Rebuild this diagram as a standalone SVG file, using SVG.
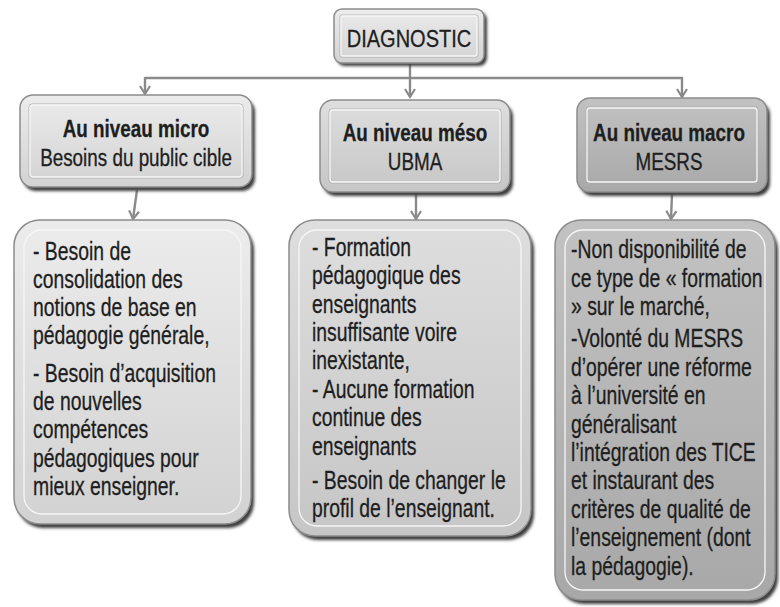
<svg xmlns="http://www.w3.org/2000/svg" width="780" height="607" viewBox="0 0 780 607">
<defs>
<linearGradient id="gLight" x1="0" y1="0" x2="0" y2="1"><stop offset="0" stop-color="#ececec"/><stop offset="1" stop-color="#d2d2d2"/></linearGradient>
<linearGradient id="gMid" x1="0" y1="0" x2="0" y2="1"><stop offset="0" stop-color="#dedede"/><stop offset="1" stop-color="#c6c6c6"/></linearGradient>
<linearGradient id="gDark" x1="0" y1="0" x2="0" y2="1"><stop offset="0" stop-color="#c2c2c2"/><stop offset="1" stop-color="#a8a8a8"/></linearGradient>
<filter id="sh" x="-10%" y="-10%" width="125%" height="125%"><feGaussianBlur stdDeviation="1.6"/></filter>
<marker id="arr" markerUnits="userSpaceOnUse" markerWidth="14" markerHeight="14" refX="10" refY="6" orient="auto"><path d="M2,1 L10,6 L2,11" fill="none" stroke="#8a8a8a" stroke-width="2.2" stroke-linejoin="miter"/></marker>
</defs>
<style>
.shadow{fill:#3c3c3c;filter:url(#sh);}
.box{stroke:#8c8c8c;stroke-width:1.5;}
.inner{fill:none;stroke:#f6f6f6;stroke-width:1.3;}
.inner2{fill:none;stroke:#a8a8a8;stroke-width:0.8;}
.conn{fill:none;stroke:#8a8a8a;stroke-width:2.4;}
text{font-family:"Liberation Sans",Arial,sans-serif;fill:#1e1e1e;stroke:#1e1e1e;stroke-width:0.3;}
.t{font-size:23px;}
.hb{font-weight:bold;}
.body{font-size:25.5px;}
</style>

<g id="connectors">
<path class="conn" d="M410,64 V97" marker-end="url(#arr)"/>
<path class="conn" d="M145,78 H682"/>
<path class="conn" d="M145,77 V94" marker-end="url(#arr)"/>
<path class="conn" d="M682,77 V97" marker-end="url(#arr)"/>
<path class="conn" d="M137,190 L133,219" marker-end="url(#arr)"/>
<path class="conn" d="M416,194 V219" marker-end="url(#arr)"/>
<path class="conn" d="M672,194 L671,219" marker-end="url(#arr)"/>
</g>

<g id="diagnostic">
<rect class="shadow" x="337" y="12" width="150" height="54" rx="8"/>
<rect class="box" x="334" y="9" width="150" height="54" rx="8" fill="url(#gLight)"/>
<rect class="inner2" x="340" y="15" width="138" height="42" rx="2"/>
<rect class="inner" x="341" y="16" width="136" height="40" rx="2"/>
<text class="t" transform="translate(409 0) scale(0.87 1)" text-anchor="middle" x="0" y="47">DIAGNOSTIC</text>
</g>

<g id="micro-header">
<rect class="shadow" x="23" y="99" width="232" height="92" rx="13"/>
<rect class="box" x="20" y="95" width="232" height="92" rx="13" fill="url(#gLight)"/>
<rect class="inner2" x="29" y="104" width="214" height="74" rx="3"/>
<rect class="inner" x="30" y="105" width="212" height="72" rx="3"/>
<text class="t" transform="translate(136 0) scale(0.82 1)" text-anchor="middle"><tspan class="hb" x="0" y="137">Au niveau micro</tspan><tspan x="0" y="166">Besoins du public cible</tspan></text>
</g>

<g id="meso-header">
<rect class="shadow" x="323" y="104" width="190" height="92" rx="13"/>
<rect class="box" x="320" y="100" width="190" height="92" rx="13" fill="url(#gMid)"/>
<rect class="inner2" x="329" y="109" width="172" height="74" rx="3"/>
<rect class="inner" x="330" y="110" width="170" height="72" rx="3"/>
<text class="t" transform="translate(415 0) scale(0.82 1)" text-anchor="middle"><tspan class="hb" x="0" y="141">Au niveau méso</tspan><tspan x="0" y="170">UBMA</tspan></text>
</g>

<g id="macro-header">
<rect class="shadow" x="580" y="102" width="190" height="94" rx="13"/>
<rect class="box" x="577" y="98" width="190" height="94" rx="13" fill="url(#gDark)"/>
<rect class="inner2" x="586" y="107" width="172" height="76" rx="3"/>
<rect class="inner" x="587" y="108" width="170" height="74" rx="3"/>
<text class="t" transform="translate(669 0) scale(0.82 1)" text-anchor="middle"><tspan class="hb" x="0" y="141">Au niveau macro</tspan><tspan x="0" y="170">MESRS</tspan></text>
</g>

<g id="micro-body">
<rect class="shadow" x="17" y="224" width="237" height="304" rx="26"/>
<rect class="box" x="14" y="220" width="237" height="304" rx="26" fill="url(#gLight)"/>
<rect class="inner" x="24" y="230" width="217" height="284" rx="18"/>
<text class="body" transform="translate(33 0) scale(0.76 1)"><tspan x="0" y="260">- Besoin de</tspan><tspan x="0" y="288">consolidation des</tspan><tspan x="0" y="316">notions de base en</tspan><tspan x="0" y="344">pédagogie générale,</tspan><tspan x="0" y="382">- Besoin d’acquisition</tspan><tspan x="0" y="410">de nouvelles</tspan><tspan x="0" y="438">compétences</tspan><tspan x="0" y="467">pédagogiques pour</tspan><tspan x="0" y="495">mieux enseigner.</tspan></text>
</g>

<g id="meso-body">
<rect class="shadow" x="292" y="224" width="242" height="316" rx="26"/>
<rect class="box" x="289" y="220" width="242" height="316" rx="26" fill="url(#gMid)"/>
<rect class="inner" x="299" y="230" width="222" height="296" rx="18"/>
<text class="body" transform="translate(312 0) scale(0.76 1)"><tspan x="0" y="256">- Formation</tspan><tspan x="0" y="284">pédagogique des</tspan><tspan x="0" y="313">enseignants</tspan><tspan x="0" y="341">insuffisante voire</tspan><tspan x="0" y="369">inexistante,</tspan><tspan x="0" y="398">- Aucune formation</tspan><tspan x="0" y="426">continue des</tspan><tspan x="0" y="455">enseignants</tspan><tspan x="0" y="489">- Besoin de changer le</tspan><tspan x="0" y="517">profil de l’enseignant.</tspan></text>
</g>

<g id="macro-body">
<rect class="shadow" x="558" y="224" width="220" height="380" rx="26"/>
<rect class="box" x="555" y="220" width="220" height="380" rx="26" fill="url(#gDark)"/>
<rect class="inner" x="565" y="230" width="200" height="360" rx="18"/>
<text class="body" transform="translate(571 0) scale(0.76 1)"><tspan x="0" y="258">-Non disponibilité de</tspan><tspan x="0" y="287">ce type de « formation</tspan><tspan x="0" y="315">» sur le marché,</tspan><tspan x="0" y="347">-Volonté du MESRS</tspan><tspan x="0" y="376">d’opérer une réforme</tspan><tspan x="0" y="404">à l’université en</tspan><tspan x="0" y="433">généralisant</tspan><tspan x="0" y="461">l’intégration des TICE</tspan><tspan x="0" y="489">et instaurant des</tspan><tspan x="0" y="518">critères de qualité de</tspan><tspan x="0" y="546">l’enseignement (dont</tspan><tspan x="0" y="575">la pédagogie).</tspan></text>
</g>
</svg>
